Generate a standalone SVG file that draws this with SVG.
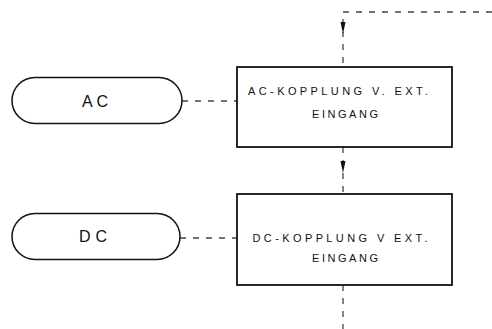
<svg xmlns="http://www.w3.org/2000/svg" width="492" height="329" viewBox="0 0 492 329">
  <style>
    .box { fill: #fff; stroke: #111; stroke-width: 1.8; }
    .pill { fill: #fff; stroke: #111; stroke-width: 1.5; }
    .dash { fill: none; stroke: #444; stroke-width: 1.3; stroke-dasharray: 6 7; }
    .lbl { font-family: "Liberation Sans", Arial, sans-serif; font-size: 11px; fill: #111; text-anchor: middle; }
    .big { font-family: "Liberation Sans", Arial, sans-serif; font-size: 16px; fill: #111; text-anchor: middle; }
  </style>
  <defs>
    <marker id="arrow" viewBox="0 0 12 6" refX="12" refY="3" markerWidth="12" markerHeight="6" markerUnits="userSpaceOnUse" orient="auto">
      <path d="M0,0.5 L12,3 L0,5.5 Z" fill="#111"/>
    </marker>
  </defs>
  <rect width="492" height="329" fill="#fff"/>

  <g id="connectors">
    <path class="dash" d="M492 12 H343 V34" marker-end="url(#arrow)"/>
    <path class="dash" d="M343 34 V67" stroke-dashoffset="3"/>
    <path class="dash" d="M343 147 V173" marker-end="url(#arrow)"/>
    <path class="dash" d="M343 173 V194"/>
    <path class="dash" d="M343 285 V329"/>
    <path class="dash" d="M182 101 H237"/>
    <path class="dash" d="M180 238 H237"/>
  </g>

  <g id="ac-pill">
    <rect class="pill" x="12" y="77.5" width="170" height="46" rx="23" ry="23"/>
    <text class="big" x="95" y="106.5" textLength="26" lengthAdjust="spacing">AC</text>
  </g>

  <g id="dc-pill">
    <rect class="pill" x="12" y="213.5" width="168" height="46" rx="23" ry="23"/>
    <text class="big" x="93" y="242" textLength="28" lengthAdjust="spacing">DC</text>
  </g>

  <g id="ac-box">
    <rect class="box" x="237" y="67" width="215" height="80"/>
    <text class="lbl" x="338" y="94.5" textLength="180" lengthAdjust="spacing">AC-KOPPLUNG V. EXT.</text>
    <text class="lbl" x="345" y="117.5" textLength="66" lengthAdjust="spacing">EINGANG</text>
  </g>

  <g id="dc-box">
    <rect class="box" x="237" y="194" width="215" height="91"/>
    <text class="lbl" x="340" y="242" textLength="175" lengthAdjust="spacing">DC-KOPPLUNG V EXT.</text>
    <text class="lbl" x="345" y="262" textLength="66" lengthAdjust="spacing">EINGANG</text>
  </g>
</svg>
